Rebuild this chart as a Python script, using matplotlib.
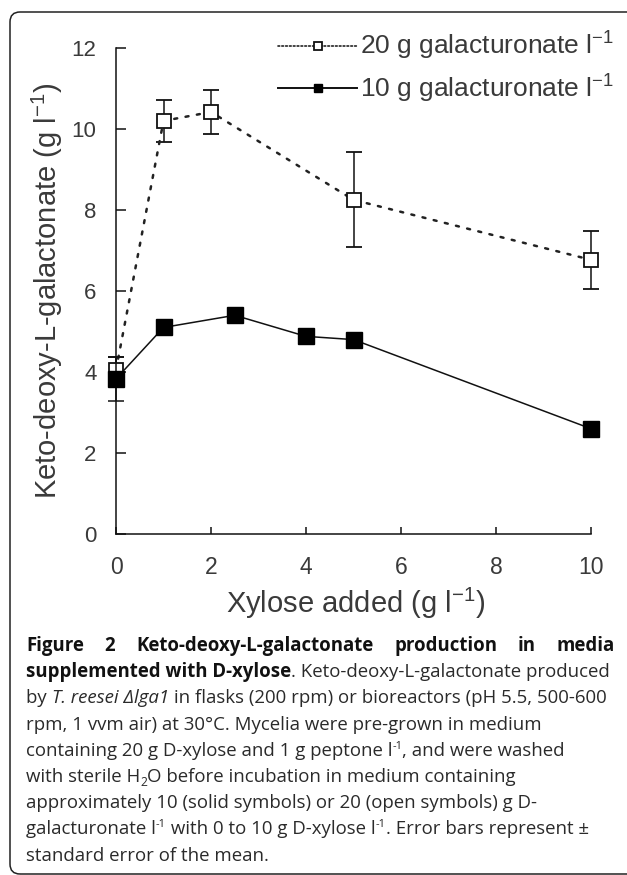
import matplotlib.pyplot as plt
from matplotlib.patches import FancyBboxPatch
from matplotlib.transforms import IdentityTransform

# data
xylose_20 = [0, 1, 2, 5, 10]
kdg_20 = [4.05, 10.2, 10.42, 8.25, 6.77]
err_20 = [0.33, 0.52, 0.55, 1.17, 0.71]

xylose_10 = [0, 1, 2.5, 4, 5, 10]
kdg_10 = [3.83, 5.1, 5.4, 4.88, 4.8, 2.6]
err_10 = [0.55, 0.0, 0.0, 0.0, 0.0, 0.0]

x_ticks = [0, 2, 4, 6, 8, 10]
y_ticks = [0, 2, 4, 6, 8, 10, 12]
labels = ["20 g galacturonate l$^{-1}$", "10 g galacturonate l$^{-1}$"]

W, H = 627, 875
tc = "#3a3a3a"
plt.rcParams["font.family"] = ["Liberation Sans", "DejaVu Sans"]
plt.rcParams["mathtext.default"] = "regular"

fig = plt.figure(figsize=(W / 100, H / 100), dpi=100)
ax = fig.add_axes([116 / W, 1 - 534 / H, 475 / W, 486 / H])

c20 = ax.errorbar(xylose_20, kdg_20, yerr=err_20, color="#222222",
                  linestyle=(0, (1.2, 3.4)), lw=1.8, dash_capstyle="round",
                  marker="s", ms=9.5, mfc="white", mec="#111111", mew=1.3,
                  ecolor="#111111", elinewidth=1.1, capsize=5.8, capthick=1.1,
                  clip_on=False, zorder=3)
c10 = ax.errorbar(xylose_10, kdg_10, yerr=err_10, color="#111111", lw=1.1,
                  marker="s", ms=11, mfc="black", mec="black",
                  ecolor="#111111", elinewidth=1.1, capsize=5.8, capthick=1.1,
                  clip_on=False, zorder=4)

ax.set_xlim(0, 10)
ax.set_ylim(0, 12)
ax.set_xticks(x_ticks)
ax.set_yticks(y_ticks)
for s in ["top", "right"]:
    ax.spines[s].set_visible(False)
for s in ["left", "bottom"]:
    ax.spines[s].set_linewidth(1.1)
    ax.spines[s].set_color("#111111")
ax.tick_params(axis="y", direction="in", length=7, width=1.1, pad=14,
               labelsize=16, labelcolor=tc, color="#111111")
ax.tick_params(axis="x", direction="in", length=5, width=1.1, pad=16,
               labelsize=16.5, labelcolor=tc, color="#111111")

ax.set_ylabel("Keto-deoxy-L-galactonate (g l$^{-1}$)", fontsize=21, color=tc, va="center")
ax.yaxis.set_label_coords((47 - 116) / 475, 0.5)
ax.set_xlabel("Xylose added (g l$^{-1}$)", fontsize=21, color=tc, va="center")
ax.xaxis.set_label_coords((356 - 116) / 475, (534 - 603) / 486)

leg = ax.legend([c20.lines[0], c10.lines[0]], labels, loc="upper right",
                bbox_to_anchor=(614 / W, 1 - 30 / H), bbox_transform=fig.transFigure,
                frameon=False, fontsize=19, labelcolor=tc, handlelength=3.0,
                handletextpad=0.1, labelspacing=0.4, borderpad=0, borderaxespad=0)
hl = leg.get_lines()
hl[0].set_markersize(6)
hl[0].set_linestyle((0, (1, 1.3)))
hl[0].set_linewidth(1.2)
hl[1].set_markersize(6)
hl[1].set_linewidth(1.4)

# frame round the figure
frame = FancyBboxPatch((10, 1), 650, H - 13, boxstyle="round,pad=0,rounding_size=10",
                       transform=IdentityTransform(), fill=False, lw=1.1, ec="#222222")
fig.patches.append(frame)

# caption
fig.canvas.draw()
r = fig.canvas.get_renderer()
cap_font = ["Open Sans", "DejaVu Sans"]
cap_size = 13.4


def put(x, y, s, scale=1.0, dy=0, **kw):
    t = fig.text(x / W, 1 - (y - dy) / H, s, family=cap_font, size=cap_size * scale,
                 va="baseline", ha="left", color=kw.pop("color", "#2a2a2a"), **kw)
    return t.get_window_extent(renderer=r).width


def line(y, parts, x0=26):
    x = x0
    for p in parts:
        s, kw = p if isinstance(p, tuple) else (p, {})
        x += put(x, y, s, **dict(kw))


# first line, justified
words = "Figure 2 Keto-deoxy-L-galactonate production in media".split()
widths = []
for w in words:
    t = fig.text(0, 0, w, family=cap_font, size=cap_size, weight="bold")
    widths.append(t.get_window_extent(renderer=r).width)
    t.remove()
gap = (615 - 26 - sum(widths)) / (len(words) - 1)
x = 26
for w, wd in zip(words, widths):
    put(x, 651, w, weight="bold", color="#111111")
    x += wd + gap

sup = {"scale": 0.6, "dy": 7}
sub = {"scale": 0.65, "dy": -4}
lh = 26.2
line(651 + lh, [("supplemented with D-xylose", {"weight": "bold", "color": "#111111"}),
                ". Keto-deoxy-L-galactonate produced"])
line(651 + 2 * lh, ["by ", ("T. reesei Δlga1", {"style": "italic"}),
                    " in flasks (200 rpm) or bioreactors (pH 5.5, 500-600"])
line(651 + 3 * lh, ["rpm, 1 vvm air) at 30°C. Mycelia were pre-grown in medium"])
line(651 + 4 * lh, ["containing 20 g D-xylose and 1 g peptone l", ("-1", sup),
                    ", and were washed"])
line(651 + 5 * lh, ["with sterile H", ("2", sub), "O before incubation in medium containing"])
line(651 + 6 * lh, ["approximately 10 (solid symbols) or 20 (open symbols) g D-"])
line(651 + 7 * lh, ["galacturonate l", ("-1", sup), " with 0 to 10 g D-xylose l", ("-1", sup),
                    ". Error bars represent ±"])
line(651 + 8 * lh, ["standard error of the mean."])

fig.savefig("out.png", dpi=100)
